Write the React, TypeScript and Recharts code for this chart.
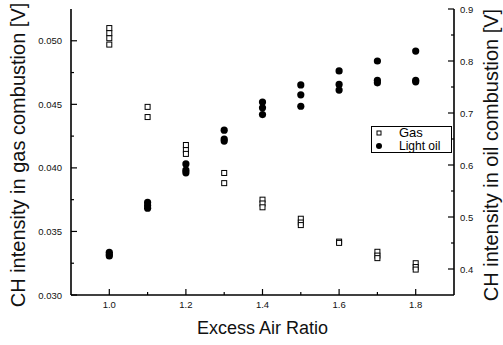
import React from 'react';
import { ComposedChart, Scatter, XAxis, YAxis, Legend } from 'recharts';

const ratios = [1.0, 1.1, 1.2, 1.3, 1.4, 1.5, 1.6, 1.7, 1.8];
const gasValues = [
  [0.051, 0.0506, 0.0502, 0.0497],
  [0.0448, 0.044],
  [0.0418, 0.0414, 0.0411],
  [0.0396, 0.0388],
  [0.0375, 0.0372, 0.0369],
  [0.036, 0.0357, 0.0355],
  [0.0342, 0.0341],
  [0.0334, 0.0331, 0.0329],
  [0.0325, 0.0322, 0.032],
];
const oilValues = [
  [0.432, 0.428, 0.425],
  [0.528, 0.522, 0.517],
  [0.602, 0.59, 0.585],
  [0.667, 0.65, 0.646],
  [0.721, 0.71, 0.697],
  [0.754, 0.735, 0.713],
  [0.781, 0.755, 0.744],
  [0.8, 0.763, 0.758],
  [0.819, 0.763, 0.76],
];
const xTicks = [1.0, 1.1, 1.2, 1.3, 1.4, 1.5, 1.6, 1.7, 1.8];
const xLabels = ['1.0', '', '1.2', '', '1.4', '', '1.6', '', '1.8'];
const leftTicks = [0.03, 0.0325, 0.035, 0.0375, 0.04, 0.0425, 0.045, 0.0475, 0.05];
const leftLabels = ['0.030', '', '0.035', '', '0.040', '', '0.045', '', '0.050'];
const rightTicks = [0.4, 0.45, 0.5, 0.55, 0.6, 0.65, 0.7, 0.75, 0.8, 0.85, 0.9];
const rightLabels = ['0.4', '', '0.5', '', '0.6', '', '0.7', '', '0.8', '', '0.9'];

const gasData = ratios.flatMap((r, i) => gasValues[i].map((v) => ({ x: r, gas: v })));
const oilData = ratios.flatMap((r, i) => oilValues[i].map((v) => ({ x: r, oil: v })));

const FONT = '"Liberation Sans", Arial, sans-serif';

const labelOf = (ticks: number[], labels: string[], v: number) => {
  const idx = ticks.findIndex((t) => Math.abs(t - v) < 1e-9);
  return idx >= 0 ? labels[idx] : '';
};

const BottomTick = (props: any) => {
  const { x, y, payload } = props;
  const lab = labelOf(xTicks, xLabels, payload.value);
  const len = lab ? 6 : 3;
  return (
    <g>
      <line x1={x} y1={y} x2={x} y2={y - len} stroke="#000" strokeWidth={1.2} />
      {lab && (
        <text x={x} y={y + 13} textAnchor="middle" fontSize={9.5} fontFamily={FONT} fill="#111">
          {lab}
        </text>
      )}
    </g>
  );
};

const TopTick = (props: any) => {
  const { x, y, payload } = props;
  const lab = labelOf(xTicks, xLabels, payload.value);
  const len = lab ? 6 : 3;
  return <line x1={x} y1={y} x2={x} y2={y + len} stroke="#000" strokeWidth={1.2} />;
};

const LeftTick = (props: any) => {
  const { x, y, payload } = props;
  const lab = labelOf(leftTicks, leftLabels, payload.value);
  const len = lab ? 6 : 3;
  return (
    <g>
      <line x1={x} y1={y} x2={x + len} y2={y} stroke="#000" strokeWidth={1.2} />
      {lab && (
        <text x={x - 9} y={y + 3.5} textAnchor="end" fontSize={9.5} fontFamily={FONT} fill="#111">
          {lab}
        </text>
      )}
    </g>
  );
};

const RightTick = (props: any) => {
  const { x, y, payload } = props;
  const lab = labelOf(rightTicks, rightLabels, payload.value);
  const len = lab ? 6 : 3;
  return (
    <g>
      <line x1={x} y1={y} x2={x - len} y2={y} stroke="#000" strokeWidth={1.2} />
      {lab && (
        <text x={x + 6} y={y + 3.5} textAnchor="start" fontSize={9.5} fontFamily={FONT} fill="#111">
          {lab}
        </text>
      )}
    </g>
  );
};

const SquareShape = (props: any) => {
  const { cx, cy } = props;
  return <rect x={cx - 2.5} y={cy - 2.5} width={5} height={5} fill="#fff" stroke="#000" strokeWidth={1} />;
};

const CircleShape = (props: any) => {
  const { cx, cy } = props;
  return <circle cx={cx} cy={cy} r={3.6} fill="#000" />;
};

const LegendContent = () => (
  <div
    style={{
      border: '1px solid #000',
      width: 81,
      height: 27,
      fontFamily: FONT,
      fontSize: 12,
      lineHeight: '12px',
      background: '#fff',
      boxSizing: 'border-box',
      paddingTop: 0,
    }}
  >
    <div style={{ display: 'flex', alignItems: 'center', height: 12.5 }}>
      <svg width={27} height={12}>
        <rect x={5} y={4} width={4} height={4} fill="#fff" stroke="#000" strokeWidth={1} />
      </svg>
      <span style={{ fontSize: 13 }}>Gas</span>
    </div>
    <div style={{ display: 'flex', alignItems: 'center', height: 12.5 }}>
      <svg width={27} height={12}>
        <circle cx={7} cy={6} r={3} fill="#000" />
      </svg>
      <span>Light oil</span>
    </div>
  </div>
);

const VLabel = (text: string, dx: number, dy: number) => (props: any) => {
  const vb = props.viewBox;
  const cx = vb.x + dx;
  const cy = vb.y + vb.height / 2 + dy;
  return (
    <text
      x={cx}
      y={cy}
      transform={`rotate(-90 ${cx} ${cy})`}
      textAnchor="middle"
      dominantBaseline="central"
      fontSize={20}
      fontFamily={FONT}
      fill="#111"
    >
      {text}
    </text>
  );
};

export default function App() {
  return (
    <div style={{ position: 'absolute', left: 0, top: 0, width: 503, height: 345, background: '#fff' }}>
      <ComposedChart width={503} height={345} margin={{ top: 9, right: 0, bottom: 0, left: 0 }}>
        <XAxis
          xAxisId="bottom"
          dataKey="x"
          type="number"
          domain={[0.9, 1.9]}
          ticks={xTicks}
          tick={<BottomTick />}
          tickSize={0}
          tickMargin={0}
          height={50}
          stroke="#000"
          strokeWidth={1.6}
          allowDataOverflow
          label={{
            value: 'Excess Air Ratio',
            position: 'insideBottom',
            offset: 11,
            fontSize: 18,
            fontFamily: FONT,
            fill: '#111',
          }}
        />
        <XAxis
          xAxisId="top"
          orientation="top"
          dataKey="x"
          type="number"
          domain={[0.9, 1.9]}
          ticks={xTicks}
          tick={<TopTick />}
          tickSize={0}
          tickMargin={0}
          height={0}
          stroke="#000"
          strokeWidth={1.6}
          allowDataOverflow
        />
        <YAxis
          yAxisId="left"
          dataKey="gas"
          type="number"
          domain={[0.03, 0.0525]}
          ticks={leftTicks}
          tick={<LeftTick />}
          tickSize={0}
          tickMargin={0}
          width={71}
          stroke="#000"
          strokeWidth={1.6}
          allowDataOverflow
          label={{ content: VLabel('CH intensity in gas combustion [V]', 18, 3) }}
        />
        <YAxis
          yAxisId="right"
          dataKey="oil"
          orientation="right"
          type="number"
          domain={[0.35, 0.9]}
          ticks={rightTicks}
          tick={<RightTick />}
          tickSize={0}
          tickMargin={0}
          width={49}
          stroke="#000"
          strokeWidth={1.6}
          allowDataOverflow
          label={{ content: VLabel('CH intensity in oil combustion [V]', 37, 3) }}
        />
        <Legend
          layout="vertical"
          align="center"
          verticalAlign="middle"
          content={<LegendContent />}
          wrapperStyle={{ position: 'absolute', left: 371, top: 126, width: 81, height: 27 }}
        />
        <Scatter
          name="Gas"
          data={gasData}
          dataKey="gas"
          xAxisId="bottom"
          yAxisId="left"
          shape={<SquareShape />}
          isAnimationActive={false}
        />
        <Scatter
          name="Light oil"
          data={oilData}
          dataKey="oil"
          xAxisId="bottom"
          yAxisId="right"
          shape={<CircleShape />}
          isAnimationActive={false}
        />
      </ComposedChart>
    </div>
  );
}
